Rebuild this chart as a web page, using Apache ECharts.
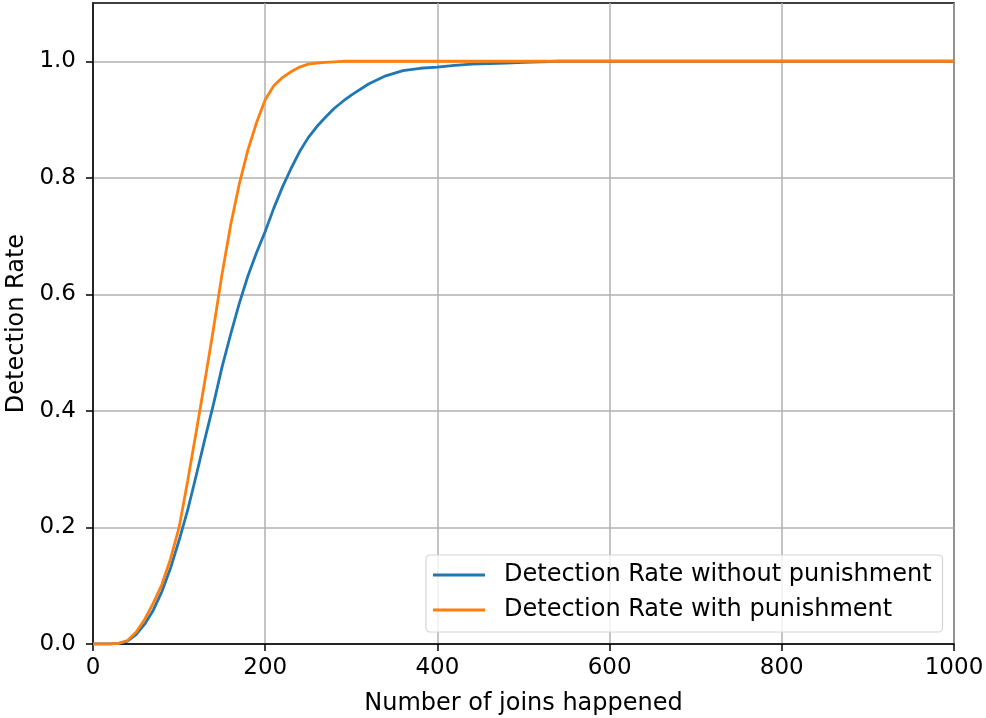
<!DOCTYPE html>
<html>
<head>
<meta charset="utf-8">
<script src="https://cdn.jsdelivr.net/npm/echarts@6/dist/echarts.min.js"></script>
<style>
  html, body { margin: 0; padding: 0; background: #fff; }
  #chart { width: 986px; height: 718px; }
</style>
</head>
<body>
<div id="chart"></div>
<script>
// Number of joins at which the detection rate was sampled
const joins = [0, 10, 20, 30, 40, 50, 60, 70, 80, 90, 100, 110, 120, 130, 140, 150,
  160, 170, 180, 190, 200, 210, 220, 230, 240, 250, 260, 270, 280, 290, 300,
  320, 340, 360, 380, 400, 420, 440, 460, 480, 500, 520, 540, 600, 1000];

// Detection rate without punishment
const rateWithout = [0, 0, 0, 0.001, 0.005, 0.016, 0.034, 0.058, 0.09, 0.13, 0.178, 0.23, 0.29, 0.352, 0.412, 0.476,
  0.532, 0.585, 0.632, 0.672, 0.708, 0.748, 0.784, 0.816, 0.845, 0.869, 0.888, 0.904, 0.919, 0.931, 0.942,
  0.961, 0.975, 0.984, 0.988, 0.99, 0.993, 0.995, 0.996, 0.997, 0.998, 0.999, 1.0, 1.0, 1.0];

// Detection rate with punishment
const rateWith = [0, 0, 0, 0.001, 0.006, 0.02, 0.042, 0.07, 0.102, 0.146, 0.2, 0.28, 0.365, 0.452, 0.542, 0.636,
  0.72, 0.79, 0.848, 0.895, 0.934, 0.958, 0.972, 0.982, 0.99, 0.995, 0.997, 0.998, 0.999, 1.0, 1.0,
  1.0, 1.0, 1.0, 1.0, 1.0, 1.0, 1.0, 1.0, 1.0, 1.0, 1.0, 1.0, 1.0, 1.0];

const xTicks = [0, 200, 400, 600, 800, 1000];
const yTicks = [0, 0.2, 0.4, 0.6, 0.8, 1.0];

const seriesNames = ['Detection Rate without punishment', 'Detection Rate with punishment'];
const colors = ['#1f77b4', '#ff7f0e'];

const pairs = (ys) => joins.map((x, i) => [x, ys[i]]);

const FONT = 'DejaVu Sans';
const chart = echarts.init(document.getElementById('chart'), null, { renderer: 'canvas' });

chart.setOption({
  backgroundColor: '#fff',
  animation: false,
  textStyle: { fontFamily: FONT },
  grid: {
    left: 93, right: 32, top: 3, bottom: 74,
    outerBoundsMode: 'none',
    containLabel: false,
    show: true, borderColor: '#000', borderWidth: 1.5, backgroundColor: 'transparent'
  },
  legend: {
    orient: 'vertical',
    left: 426, top: 555,
    padding: [7, 11, 9, 7],
    itemWidth: 52, itemHeight: 3,
    itemGap: 9,
    icon: 'rect',
    backgroundColor: 'rgba(255,255,255,0.8)',
    borderColor: '#d5d5d5', borderWidth: 1.2, borderRadius: 4,
    textStyle: { fontFamily: FONT, fontSize: 24, color: '#000', lineHeight: 26, padding: [0, 0, 0, 14] },
    data: seriesNames
  },
  xAxis: {
    type: 'value',
    min: 0, max: 1000, interval: 200,
    name: 'Number of joins happened',
    nameLocation: 'middle', nameGap: 48,
    nameTextStyle: { fontFamily: FONT, fontSize: 24, color: '#000' },
    axisLine: { show: true, onZero: false, lineStyle: { color: '#000', width: 1.5 } },
    axisTick: { show: true, inside: false, length: 7, lineStyle: { color: '#000', width: 1.5 }, customValues: xTicks },
    axisLabel: { fontFamily: FONT, fontSize: 23, color: '#000', margin: 13, customValues: xTicks,
      formatter: (v) => String(v) },
    splitLine: { show: true, lineStyle: { color: '#b0b0b0', width: 1.5 } }
  },
  yAxis: {
    type: 'value',
    min: 0, max: 1.1, interval: 0.2,
    name: 'Detection Rate',
    nameLocation: 'middle', nameGap: 62, nameRotate: 90,
    nameTextStyle: { fontFamily: FONT, fontSize: 24, color: '#000' },
    axisLine: { show: true, onZero: false, lineStyle: { color: '#000', width: 1.5 } },
    axisTick: { show: true, inside: false, length: 7, lineStyle: { color: '#000', width: 1.5 }, customValues: yTicks },
    axisLabel: { fontFamily: FONT, fontSize: 23, color: '#000', margin: 17, customValues: yTicks,
      formatter: (v) => v.toFixed(1) },
    splitLine: { show: true, lineStyle: { color: '#b0b0b0', width: 1.5 } }
  },
  series: [
    {
      name: seriesNames[0], type: 'line', data: pairs(rateWithout),
      showSymbol: false, symbol: 'none', smooth: false,
      lineStyle: { color: colors[0], width: 2.8 }, itemStyle: { color: colors[0] }, z: 3
    },
    {
      name: seriesNames[1], type: 'line', data: pairs(rateWith),
      showSymbol: false, symbol: 'none', smooth: false,
      lineStyle: { color: colors[1], width: 2.8 }, itemStyle: { color: colors[1] }, z: 4
    }
  ]
});
</script>
</body>
</html>
